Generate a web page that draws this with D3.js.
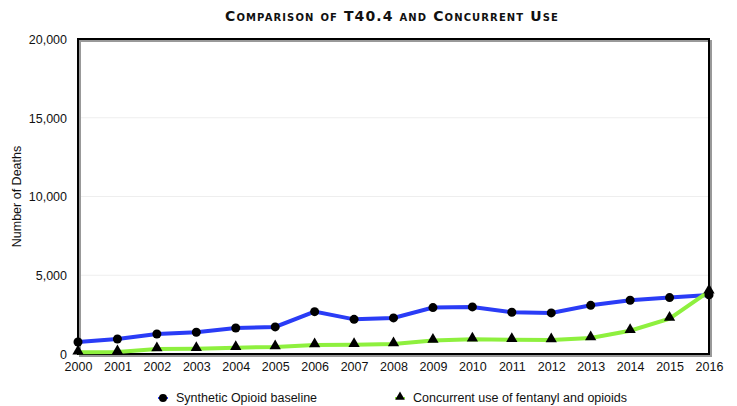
<!DOCTYPE html>
<html>
<head>
<meta charset="utf-8">
<script src="https://cdn.jsdelivr.net/npm/d3@7"></script>
<style>
  body { margin: 0; background: #fff; }
  text { font-family: "Liberation Sans", Arial, sans-serif; }
</style>
</head>
<body>
<svg id="chart" width="737" height="406"></svg>
<script>
var years = [2000, 2001, 2002, 2003, 2004, 2005, 2006, 2007, 2008, 2009, 2010, 2011, 2012, 2013, 2014, 2015, 2016];
var synthetic = [760, 950, 1270, 1380, 1650, 1720, 2690, 2200, 2290, 2945, 2990, 2650, 2610, 3090, 3410, 3580, 3750];
var concurrent = [110, 130, 320, 340, 400, 445, 570, 590, 635, 850, 930, 910, 890, 1020, 1480, 2250, 3980];
var yTicks = [0, 5000, 10000, 15000, 20000];
var seriesNames = ["Synthetic Opioid baseline", "Concurrent use of fentanyl and opioids"];
var seriesColors = ["#2a3cf6", "#8ef03e"];

var svg = d3.select("#chart"),
    margin = { top: 39, right: 28, bottom: 52, left: 78 },
    width = +svg.attr("width") - margin.left - margin.right,
    height = +svg.attr("height") - margin.top - margin.bottom;

var xScale = d3.scaleLinear().domain([2000, 2016]).range([0, width]),
    yScale = d3.scaleLinear().domain([0, 20000]).range([height, 0]);

var g = svg.append("g")
    .attr("transform", "translate(" + margin.left + "," + margin.top + ")");

// title
svg.append("text")
    .attr("x", 392)
    .attr("y", 21)
    .attr("text-anchor", "middle")
    .attr("font-size", "14px")
    .attr("font-weight", "bold")
    .style("font-variant", "small-caps")
    .style("letter-spacing", "1.1px")
    .style("font-family", "'DejaVu Sans', sans-serif")
    .attr("fill", "#111")
    .text("Comparison of T40.4 and Concurrent Use");

// grid lines
g.selectAll(".grid")
    .data(yTicks.slice(1, -1))
    .enter().append("line")
    .attr("x1", 0).attr("x2", width)
    .attr("y1", d => yScale(d)).attr("y2", d => yScale(d))
    .attr("stroke", "#eeeeee")
    .attr("stroke-width", 1);

// frame with little shadow
g.append("rect")
    .attr("x", 2).attr("y", 2)
    .attr("width", width).attr("height", height)
    .attr("fill", "none").attr("stroke", "#999").attr("stroke-width", 2);
g.append("rect")
    .attr("width", width).attr("height", height)
    .attr("fill", "none").attr("stroke", "#000").attr("stroke-width", 2);

// axes (labels only)
var yAxis = g.append("g")
    .call(d3.axisLeft(yScale).tickValues(yTicks).tickFormat(d3.format(",")).tickSize(0).tickPadding(11));
yAxis.select(".domain").remove();
yAxis.selectAll("text").attr("font-size", "12.5px").attr("fill", "#111").attr("dy", "0.35em");

var xAxis = g.append("g")
    .attr("transform", "translate(0," + height + ")")
    .call(d3.axisBottom(xScale).tickValues(years).tickFormat(d3.format("d")).tickSize(0).tickPadding(8));
xAxis.select(".domain").remove();
xAxis.selectAll("text").attr("font-size", "12.5px").attr("fill", "#111");

svg.append("text")
    .attr("transform", "translate(21," + (margin.top + height / 2) + ") rotate(-90)")
    .attr("text-anchor", "middle")
    .attr("font-size", "12.5px")
    .attr("fill", "#111")
    .text("Number of Deaths");

var line = d3.line()
    .x((d, i) => xScale(years[i]))
    .y(d => yScale(d));

g.append("path")
    .datum(synthetic)
    .attr("fill", "none")
    .attr("stroke", seriesColors[0])
    .attr("stroke-width", 4)
    .attr("d", line);

g.append("path")
    .datum(concurrent)
    .attr("fill", "none")
    .attr("stroke", seriesColors[1])
    .attr("stroke-width", 4)
    .attr("d", line);

var tri = d3.symbol().type(d3.symbolTriangle).size(55);

g.selectAll(".tri")
    .data(concurrent)
    .enter().append("path")
    .attr("d", tri)
    .attr("transform", (d, i) => "translate(" + xScale(years[i]) + "," + (yScale(d) - 1) + ")")
    .attr("fill", "#000");

g.selectAll(".dot")
    .data(synthetic)
    .enter().append("circle")
    .attr("cx", (d, i) => xScale(years[i]))
    .attr("cy", d => yScale(d))
    .attr("r", 4.5)
    .attr("fill", "#000");

// legend
var legend = svg.append("g").attr("transform", "translate(0,398)");
var lx = [163, 400];
seriesNames.forEach(function (name, i) {
    var lg = legend.append("g").attr("transform", "translate(" + lx[i] + ",0)");
    lg.append("line")
        .attr("x1", -5).attr("x2", 5)
        .attr("stroke", seriesColors[i]).attr("stroke-width", 2);
    if (i == 0) {
        lg.append("circle").attr("r", 4).attr("fill", "#000");
    } else {
        lg.append("path").attr("d", d3.symbol().type(d3.symbolTriangle).size(40)).attr("transform", "translate(0,-1)").attr("fill", "#000");
    }
    lg.append("text")
        .attr("x", 13)
        .attr("dy", "0.35em")
        .attr("font-size", "12.5px")
        .attr("fill", "#111")
        .text(name);
});
</script>
</body>
</html>
